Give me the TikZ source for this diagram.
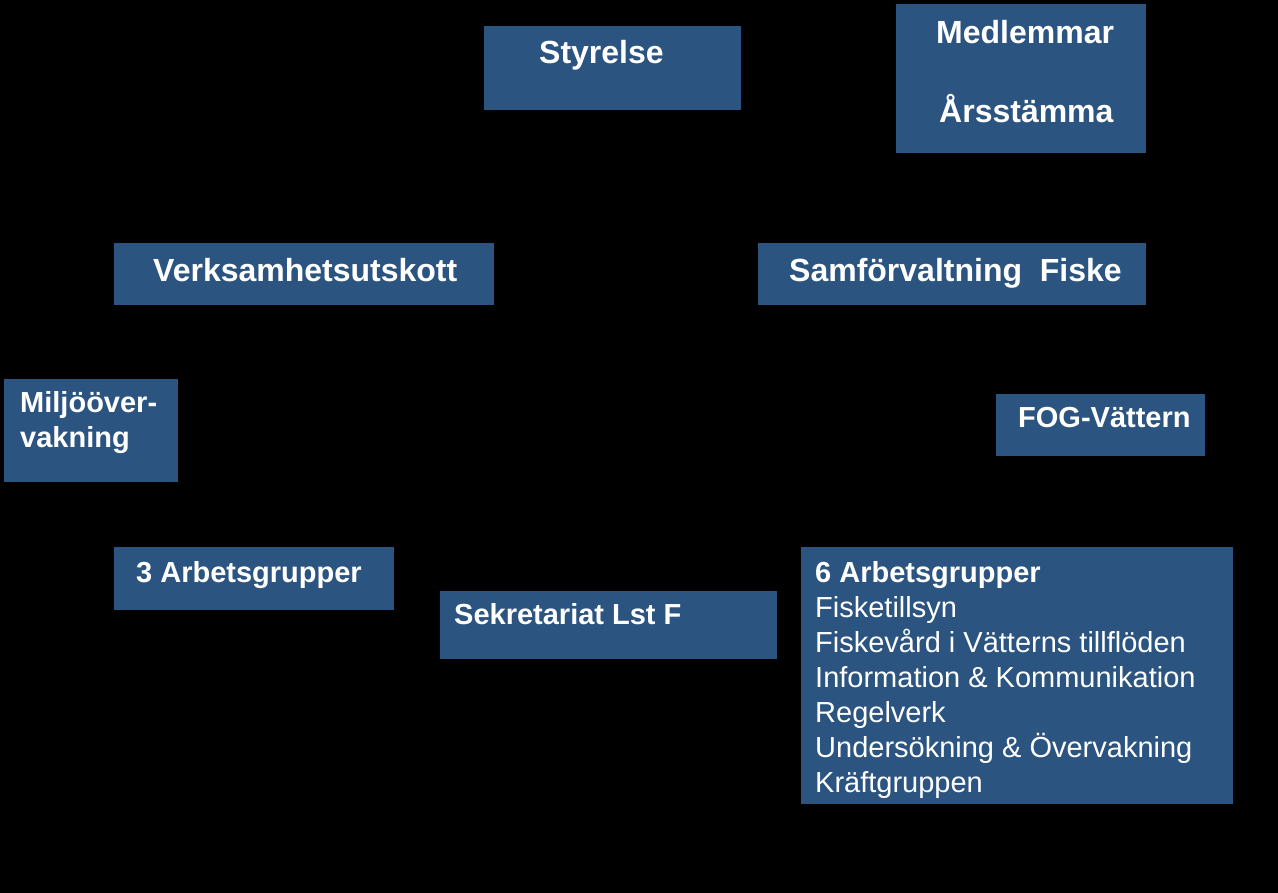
\documentclass[tikz,border=0pt]{standalone}
\usepackage{fontspec}
\setmainfont{Liberation Sans}
\usepackage{xcolor}
\definecolor{orgblue}{RGB}{44,84,128}

\begin{document}
\begin{tikzpicture}[x=1pt,y=-1pt,
		orgbox/.style={fill=orgblue, draw=none, inner sep=0pt, outer sep=0pt, anchor=north west},
		bigtext/.style={text=white, inner sep=0pt, anchor=base west, font=\bfseries\fontsize{32}{39}\selectfont},
		smalltext/.style={text=white, inner sep=0pt, anchor=base west, font=\bfseries\fontsize{29}{35}\selectfont},
		listtext/.style={text=white, inner sep=0pt, anchor=base west, font=\fontsize{29}{35}\selectfont}]
		\fill[black] (0,0) rectangle (1278,893);
		\useasboundingbox (0,0) rectangle (1278,893);
		% boxes
		\node[orgbox, minimum width=257, minimum height=84] (styrelse) at (484,26) {};
		\node[orgbox, minimum width=250, minimum height=149] (medlemmar) at (896,4) {};
		\node[orgbox, minimum width=380, minimum height=62] (vu) at (114,243) {};
		\node[orgbox, minimum width=388, minimum height=62] (samf) at (758,243) {};
		\node[orgbox, minimum width=174, minimum height=103] (miljo) at (4,379) {};
		\node[orgbox, minimum width=209, minimum height=62] (fog) at (996,394) {};
		\node[orgbox, minimum width=280, minimum height=63] (arb3) at (114,547) {};
		\node[orgbox, minimum width=337, minimum height=68] (sekr) at (440,591) {};
		\node[orgbox, minimum width=432, minimum height=257] (arb6) at (801,547) {};
		% texts
		\node[bigtext] (styrelsetxt) at ([shift={(55,38)}]styrelse.north west) {Styrelse};
		\node[bigtext] (medltxt) at ([shift={(40,39.5)}]medlemmar.north west) {Medlemmar};
		\node[bigtext] (arstxt) at ([shift={(43,118.5)}]medlemmar.north west) {Årsstämma};
		\node[bigtext] (vutxt) at ([shift={(39,39)}]vu.north west) {Verksamhetsutskott};
		\node[bigtext] (samftxt) at ([shift={(31,39)}]samf.north west) {Samförvaltning\ \ Fiske};
		\node[smalltext] (miljotxt1) at ([shift={(16,34)}]miljo.north west) {Miljööver-};
		\node[smalltext] (miljotxt2) at ([shift={(16,68)}]miljo.north west) {vakning};
		\node[smalltext] (fogtxt) at ([shift={(22,34)}]fog.north west) {FOG-Vättern};
		\node[smalltext] (arb3txt) at ([shift={(22,35)}]arb3.north west) {3 Arbetsgrupper};
		\node[smalltext] (sekrtxt) at ([shift={(14,33)}]sekr.north west) {Sekretariat Lst F};
		\node[smalltext] (arb6txt) at ([shift={(14,35)}]arb6.north west) {6 Arbetsgrupper};
		\begin{scope}
			\def\xL{815}
			\def\yTop{582}
			\def\dy{35}
			\node[listtext] (grp1) at (\xL,\yTop+\dy) {Fisketillsyn};
			\node[listtext] (grp2) at (\xL,\yTop+2*\dy) {Fiskevård i Vätterns tillflöden};
			\node[listtext] (grp3) at (\xL,\yTop+3*\dy) {Information \& Kommunikation};
			\node[listtext] (grp4) at (\xL,\yTop+4*\dy) {Regelverk};
			\node[listtext] (grp5) at (\xL,\yTop+5*\dy) {Undersökning \& Övervakning};
			\node[listtext] (grp6) at (\xL,\yTop+6*\dy) {Kräftgruppen};
		\end{scope}
	\end{tikzpicture}
\end{document}
